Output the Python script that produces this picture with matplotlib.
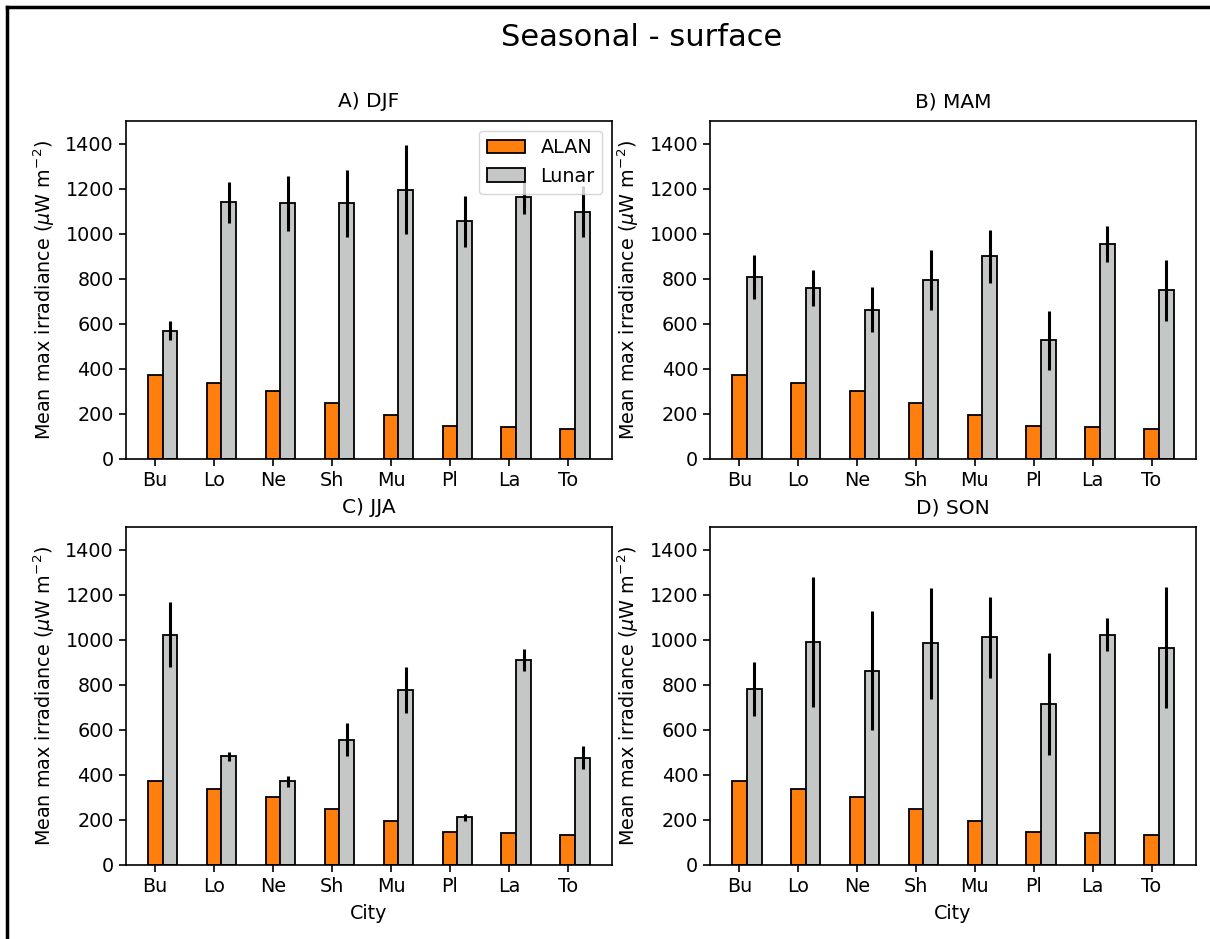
import numpy as np
import matplotlib.pyplot as plt
from matplotlib.lines import Line2D

cities = ['Bu', 'Lo', 'Ne', 'Sh', 'Mu', 'Pl', 'La', 'To']
alan = [375, 337, 300, 250, 195, 148, 141, 135]

djf_lunar = [570, 1140, 1134, 1134, 1195, 1054, 1164, 1097]
djf_err = [42, 91, 121, 150, 198, 112, 76, 114]
mam_lunar = [808, 759, 662, 796, 900, 527, 955, 748]
mam_err = [96, 81, 100, 133, 118, 132, 80, 136]
jja_lunar = [1021, 482, 371, 556, 776, 211, 909, 476]
jja_err = [144, 19, 25, 72, 101, 16, 49, 52]
son_lunar = [782, 990, 862, 984, 1010, 714, 1021, 965]
son_err = [121, 289, 264, 247, 179, 228, 73, 270]

titles = ['A) DJF', 'B) MAM', 'C) JJA', 'D) SON']
lunar = [djf_lunar, mam_lunar, jja_lunar, son_lunar]
errs = [djf_err, mam_err, jja_err, son_err]

fig = plt.figure(figsize=(12.1, 9.39), dpi=100)
W, H = 1210, 939
boxes = [(125.7, 121, 612, 459), (710, 121, 1195.7, 459),
         (125.7, 527, 612, 865), (710, 527, 1195.7, 865)]

x = np.arange(len(cities))
w = 0.25
fs = 13.8
for i, (l, t, r, b) in enumerate(boxes):
    ax = fig.add_axes([l / W, 1 - b / H, (r - l) / W, (b - t) / H])
    ax.bar(x, alan, w, color='#ff7f0e', edgecolor='black', linewidth=1.3, label='ALAN')
    ax.bar(x + w, lunar[i], w, color='#c4c7c5', edgecolor='black', linewidth=1.3,
           yerr=errs[i], error_kw=dict(ecolor='black', elinewidth=2.2, capsize=0),
           label='Lunar')
    ax.set_xticks(x)
    ax.set_xticklabels(cities)
    ax.set_ylim(0, 1500)
    ax.set_yticks(range(0, 1401, 200))
    ax.tick_params(labelsize=fs, length=5, width=1.2)
    ax.set_title(titles[i], fontsize=14.5, pad=10)
    ax.set_ylabel(r'Mean max irradiance ($\mu$W m$^{-2}$)', fontsize=fs, labelpad=6)
    if i >= 2:
        ax.set_xlabel('City', fontsize=fs, labelpad=6)
    for s in ax.spines.values():
        s.set_linewidth(1.2)
    if i == 0:
        ax.legend(loc='upper right', fontsize=fs)

fig.suptitle('Seasonal - surface', fontsize=22, x=642 / W, y=1 - 38 / H, va='center')

# frame around the figure (only top and left visible in reference)
fig.add_artist(Line2D([7 / W, 7 / W], [0, 1 - 7 / H], transform=fig.transFigure, color='black', linewidth=2.5))
fig.add_artist(Line2D([7 / W, 1], [1 - 7 / H, 1 - 7 / H], transform=fig.transFigure, color='black', linewidth=2.5))

fig.savefig('out.png', dpi=100)
